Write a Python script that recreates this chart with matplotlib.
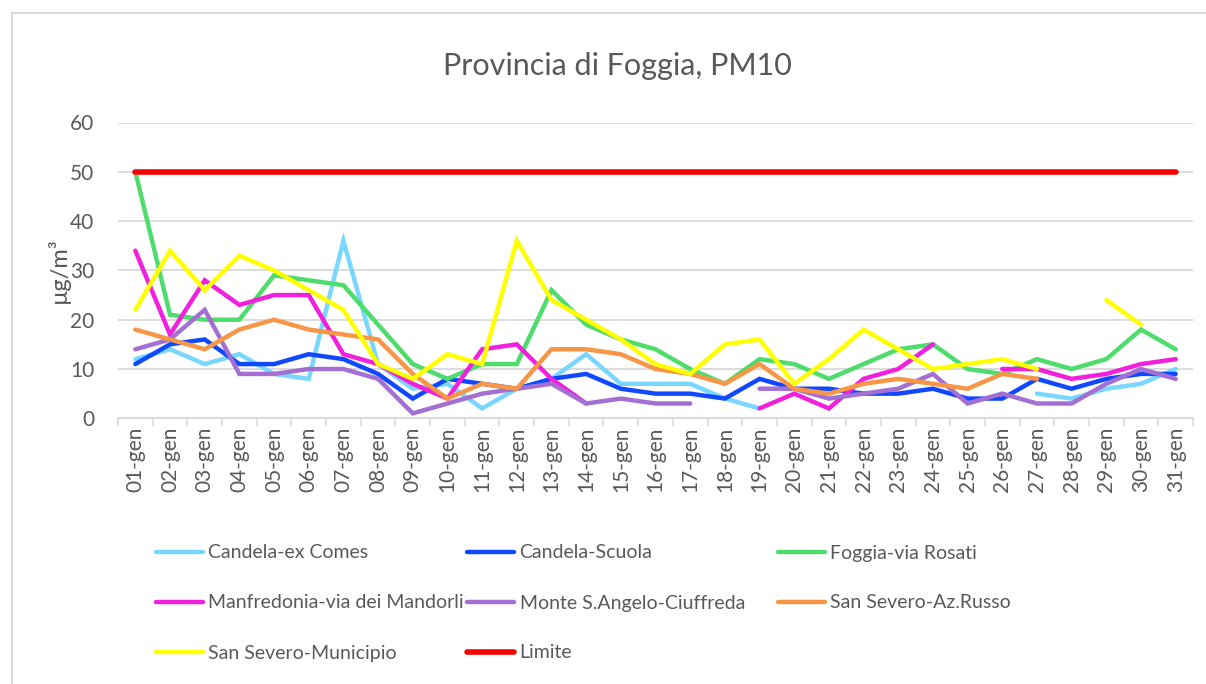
import numpy as np
import matplotlib.pyplot as plt
from matplotlib.patches import Rectangle

plt.rcParams["font.family"] = ["Lato", "DejaVu Sans"]

nan = np.nan
days = ["%02d-gen" % d for d in range(1, 32)]

candela_ex_comes = [12, 14, 11, 13, 9, 8, 36, 11, 6, 7, 2, 6, 8, 13, 7, 7, 7, 4, 2,
                    nan, nan, nan, nan, nan, nan, nan, 5, 4, 6, 7, 10]
candela_scuola = [11, 15, 16, 11, 11, 13, 12, 9, 4, 8, 7, 6, 8, 9, 6, 5, 5, 4, 8,
                  6, 6, 5, 5, 6, 4, 4, 8, 6, 8, 9, 9]
foggia_rosati = [50, 21, 20, 20, 29, 28, 27, 19, 11, 8, 11, 11, 26, 19, 16, 14, 10, 7, 12,
                 11, 8, 11, 14, 15, 10, 9, 12, 10, 12, 18, 14]
manfredonia = [34, 17, 28, 23, 25, 25, 13, 11, 7, 4, 14, 15, 8, 3, nan, nan, nan, nan, 2,
               5, 2, 8, 10, 15, nan, 10, 10, 8, 9, 11, 12]
monte_sangelo = [14, 16, 22, 9, 9, 10, 10, 8, 1, 3, 5, 6, 7, 3, 4, 3, 3, nan, 6,
                 6, 4, 5, 6, 9, 3, 5, 3, 3, 7, 10, 8]
sansevero_russo = [18, 16, 14, 18, 20, 18, 17, 16, 9, 4, 7, 6, 14, 14, 13, 10, 9, 7, 11,
                   6, 5, 7, 8, 7, 6, 9, 8, nan, nan, nan, nan]
sansevero_municipio = [22, 34, 26, 33, 30, 26, 22, 11, 8, 13, 11, 36, 24, 20, 16, 11, 9, 15, 16,
                       7, 12, 18, 14, 10, 11, 12, 10, nan, 24, 19, nan]
limite = [50] * 31

series = [
    ("Candela-ex Comes", candela_ex_comes, "#78D6FF"),
    ("Candela-Scuola", candela_scuola, "#1048FF"),
    ("Foggia-via Rosati", foggia_rosati, "#4EDC6C"),
    ("Manfredonia-via dei Mandorli", manfredonia, "#F020DC"),
    ("Monte S.Angelo-Ciuffreda", monte_sangelo, "#A36FD3"),
    ("San Severo-Az.Russo", sansevero_russo, "#F79646"),
    ("San Severo-Municipio", sansevero_municipio, "#FFFF00"),
    ("Limite", limite, "#FF0000"),
]

W, H = 1206, 684
fig = plt.figure(figsize=(W / 100, H / 100), dpi=100)
ax = fig.add_axes([118 / W, 1 - 418.3 / H, (1193 - 118) / W, (418.3 - 122.5) / H])

# chart border
fig.add_artist(Rectangle((12 / W, -0.1), 1.2, 1 - 13 / H + 0.1, transform=fig.transFigure,
                         fill=False, edgecolor="#d9d9d9", linewidth=1.5))

x = np.arange(1, 32)
handles = []
for name, vals, col in series:
    lw = 4.0 if name == "Limite" else 3.2
    (ln,) = ax.plot(x, vals, color=col, lw=lw, label=name, solid_capstyle="round",
                    solid_joinstyle="miter")
    handles.append(ln)

ax.set_xlim(0.5, 31.5)
ax.set_ylim(0, 60)
ax.set_yticks(range(0, 61, 10))
ax.set_xticks(x)
ax.set_xticklabels(days, rotation=90, fontsize=15, color="#595959")
ax.set_xticks(np.arange(0.5, 32, 1), minor=True)
ax.tick_params(axis="x", which="major", length=0, pad=6)
ax.tick_params(axis="x", which="minor", length=6, color="#d9d9d9", width=1.2)
ax.tick_params(axis="y", length=0, pad=17, labelsize=15, labelcolor="#595959")
ax.grid(axis="y", color="#d9d9d9", lw=1.3)
ax.set_axisbelow(True)
for s in ["top", "right", "left"]:
    ax.spines[s].set_visible(False)
ax.spines["bottom"].set_color("#d9d9d9")
ax.spines["bottom"].set_linewidth(1.3)

ax.set_ylabel("µg/m³", fontsize=17, color="#595959", labelpad=0)

fig.text(617 / W, 1 - 66 / H, "Provincia di Foggia, PM10", ha="center", va="center",
         fontsize=22, color="#595959")

# legend, three columns laid out like the original
col_x = [156, 467, 778]
row_y = [553, 603, 653]
for i, (h, (name, _, _)) in enumerate(zip(handles, series)):
    r, c = divmod(i, 3)
    fig.legend([h], [name], loc="center left",
               bbox_to_anchor=(col_x[c] / W, 1 - row_y[r] / H),
               frameon=False, fontsize=14, labelcolor="#595959",
               handlelength=2.4, handletextpad=0.3, borderpad=0, borderaxespad=0)

fig.savefig("out.png", dpi=100)
